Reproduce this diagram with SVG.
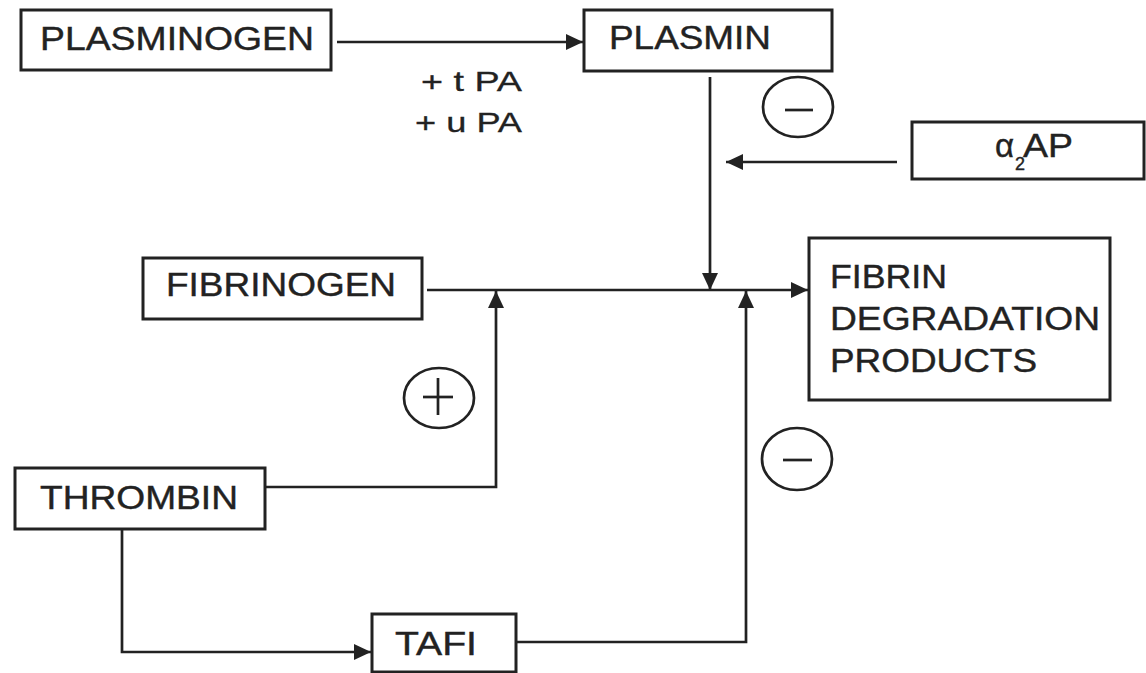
<svg xmlns="http://www.w3.org/2000/svg" width="1146" height="673" viewBox="0 0 1146 673">
<defs>
<style>
.box{fill:#fff;stroke:#222;stroke-width:3}
.t{font-family:"Liberation Sans",Arial,sans-serif;font-size:33px;fill:#222;stroke:#222;stroke-width:0.4}
.s{font-family:"Liberation Sans",Arial,sans-serif;font-size:28px;fill:#222;stroke:#222;stroke-width:0.3}
.ln{fill:none;stroke:#222;stroke-width:2.7}
.sym{fill:none;stroke:#222;stroke-width:2.7}
</style>
<marker id="ah" markerUnits="userSpaceOnUse" markerWidth="18" markerHeight="16" refX="17" refY="8" orient="auto">
<path d="M0,0 L17,8 L0,16 Z" fill="#222"/>
</marker>
</defs>
<rect width="1146" height="673" fill="#fff"/>
<g id="connectors">
<line class="ln" x1="337" y1="42" x2="583" y2="42" marker-end="url(#ah)"/>
<line class="ln" x1="710" y1="77" x2="710" y2="290" marker-end="url(#ah)"/>
<line class="ln" x1="897" y1="162" x2="726" y2="162" marker-end="url(#ah)"/>
<line class="ln" x1="427" y1="290" x2="808" y2="290" marker-end="url(#ah)"/>
<polyline class="ln" points="265,487 496,487 496,291" marker-end="url(#ah)"/>
<polyline class="ln" points="122,529 122,652 371,652" marker-end="url(#ah)"/>
<polyline class="ln" points="516,642 746,642 746,291" marker-end="url(#ah)"/>
</g>
<g id="plasminogen">
<rect class="box" x="21" y="10" width="310" height="60"/>
<text class="t" x="40" y="50" textLength="274" lengthAdjust="spacingAndGlyphs">PLASMINOGEN</text>
</g>
<g id="activators">
<text class="s" x="421" y="91" textLength="101" lengthAdjust="spacingAndGlyphs">+ t PA</text>
<text class="s" x="415" y="132" textLength="107" lengthAdjust="spacingAndGlyphs">+ u PA</text>
</g>
<g id="plasmin">
<rect class="box" x="584" y="10" width="248" height="61"/>
<text class="t" x="609" y="49" textLength="162" lengthAdjust="spacingAndGlyphs">PLASMIN</text>
</g>
<g id="minus-top">
<ellipse class="sym" cx="798" cy="107" rx="35" ry="30"/>
<line class="sym" x1="785" y1="110" x2="813" y2="110" stroke-width="4"/>
</g>
<g id="a2ap">
<rect class="box" x="912" y="122" width="232" height="57"/>
<text class="t" x="995" y="157">α</text>
<text class="t" x="1015" y="170" style="font-size:18px">2</text>
<text class="t" x="1023" y="157" textLength="50" lengthAdjust="spacingAndGlyphs">AP</text>
</g>
<g id="fibrinogen">
<rect class="box" x="143" y="258" width="279" height="61"/>
<text class="t" x="166" y="296" textLength="230" lengthAdjust="spacingAndGlyphs">FIBRINOGEN</text>
</g>
<g id="fdp">
<rect class="box" x="809" y="238" width="301" height="162"/>
<text class="t" x="830" y="288" textLength="117" lengthAdjust="spacingAndGlyphs">FIBRIN</text>
<text class="t" x="830" y="330" textLength="270" lengthAdjust="spacingAndGlyphs">DEGRADATION</text>
<text class="t" x="830" y="372" textLength="207" lengthAdjust="spacingAndGlyphs">PRODUCTS</text>
</g>
<g id="plus">
<ellipse class="sym" cx="439" cy="398" rx="35" ry="30"/>
<line class="sym" x1="423" y1="397" x2="453" y2="397" stroke-width="3.5"/>
<line class="sym" x1="438" y1="378" x2="438" y2="415" stroke-width="3.5"/>
</g>
<g id="minus-bottom">
<ellipse class="sym" cx="797" cy="459" rx="35" ry="31"/>
<line class="sym" x1="783" y1="460" x2="812" y2="460" stroke-width="4"/>
</g>
<g id="thrombin">
<rect class="box" x="15" y="468" width="250" height="61"/>
<text class="t" x="40" y="509" textLength="198" lengthAdjust="spacingAndGlyphs">THROMBIN</text>
</g>
<g id="tafi">
<rect class="box" x="372" y="614" width="144" height="58"/>
<text class="t" x="395" y="655" textLength="82" lengthAdjust="spacingAndGlyphs">TAFI</text>
</g>
</svg>
